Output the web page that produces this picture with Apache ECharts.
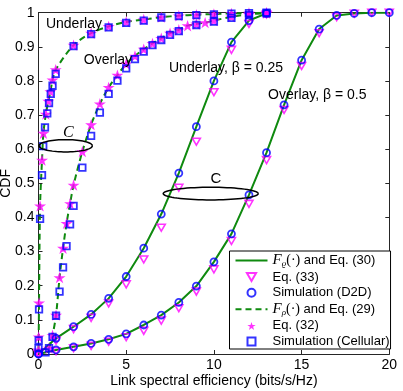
<!DOCTYPE html>
<html><head><meta charset="utf-8">
<script src="https://cdn.jsdelivr.net/npm/echarts@6/dist/echarts.min.js"></script>
<style>html,body{margin:0;padding:0;background:#fff}#c{width:403px;height:391px}</style>
</head><body><div id="c"></div>
<script>
// ---------------- DATA ----------------
const xTicks = [0, 5, 10, 15, 20];
const yTicks = [0, 0.1, 0.2, 0.3, 0.4, 0.5, 0.6, 0.7, 0.8, 0.9, 1];

// D2D, underlay (beta = 0.25)
const d2dUnderX   = [0, 1, 2, 3, 4, 5, 6, 7, 8, 9, 10, 11, 12, 13];
const d2dUnderSim = [0, 0.046, 0.08, 0.116, 0.163, 0.227, 0.31, 0.41, 0.53, 0.666, 0.80, 0.914, 0.977, 0.998];
const d2dUnderEq33 = [0, 0.039, 0.073, 0.106, 0.148, 0.204, 0.277, 0.37, 0.487, 0.622, 0.767, 0.891, 0.967, 0.995];

// D2D, overlay (beta = 0.5)
const d2dOverX   = [0, 1, 2, 3, 4, 5, 6, 7, 8, 9, 10, 11, 12, 13, 14, 15, 16, 17, 18, 19, 20];
const d2dOverSim = [0, 0.012, 0.021, 0.031, 0.043, 0.059, 0.085, 0.114, 0.151, 0.199, 0.27, 0.352, 0.466, 0.59, 0.73, 0.861, 0.952, 0.992, 0.998, 1, 1];
const d2dOverEq33 = [0, 0.008, 0.017, 0.024, 0.036, 0.049, 0.068, 0.098, 0.134, 0.183, 0.248, 0.331, 0.44, 0.568, 0.715, 0.844, 0.94, 0.987, 0.997, 1, 1];

// Cellular, underlay
const cellUnderEq32X = [0, 0.01, 0.03, 0.09, 0.2, 0.28, 0.42, 0.56, 0.68, 0.8, 0.98, 2, 3, 4, 5, 6, 7, 8, 9, 10, 11, 12, 13];
const cellUnderEq32  = [0.012, 0.05, 0.15, 0.434, 0.568, 0.647, 0.703, 0.741, 0.769, 0.803, 0.833, 0.905, 0.94, 0.96, 0.973, 0.98, 0.987, 0.991, 0.994, 0.996, 0.998, 0.999, 1];
const cellUnderSimX = [0, 0.01, 0.03, 0.09, 0.2, 0.27, 0.37, 0.5, 0.6, 0.7, 0.8, 0.98, 2, 3, 4, 5, 6, 7, 8, 9, 10, 11, 12, 13];
const cellUnderSim  = [0.017, 0.04, 0.131, 0.396, 0.524, 0.609, 0.664, 0.705, 0.735, 0.762, 0.786, 0.821, 0.902, 0.937, 0.957, 0.97, 0.977, 0.986, 0.99, 0.993, 0.995, 0.997, 0.999, 1];

// Cellular, overlay
const cellOverEq32X = [0.6, 0.8, 1, 1.2, 1.4, 1.6, 1.8, 2, 2.5, 3, 3.5, 4, 4.5, 5, 5.5, 6, 6.5, 7, 7.5, 8, 8.5, 9, 9.5, 10, 11, 12, 13];
const cellOverEq32  = [0.017, 0.055, 0.114, 0.224, 0.31, 0.383, 0.441, 0.495, 0.593, 0.672, 0.733, 0.781, 0.817, 0.85, 0.873, 0.893, 0.91, 0.925, 0.94, 0.95, 0.962, 0.967, 0.971, 0.977, 0.988, 0.995, 0.999];
const cellOverSimX = [0.4, 0.6, 0.8, 1, 1.2, 1.4, 1.6, 1.8, 2, 2.5, 3, 3.5, 4, 4.5, 5, 5.5, 6, 6.5, 7, 7.5, 8, 9, 10, 11, 12, 13];
const cellOverSim  = [0.005, 0.017, 0.05, 0.112, 0.183, 0.254, 0.316, 0.38, 0.434, 0.546, 0.639, 0.707, 0.762, 0.801, 0.837, 0.864, 0.886, 0.905, 0.92, 0.935, 0.946, 0.964, 0.974, 0.985, 0.993, 0.998];

const legendNames = ['Frho30', 'Eq. (33)', 'Simulation (D2D)', 'Frho29', 'Eq. (32)', 'Simulation (Cellular)'];

// ---------------- STYLE ----------------
const GREEN = '#0f8a0f', BLUE = '#0000ff', MAG = '#ff00ff';
const SANS = 'Liberation Sans';
const STAR = 'path://M0,-10 L2.245,-3.09 L9.51,-3.09 L3.633,1.18 L5.88,8.09 L0,3.82 L-5.88,8.09 L-3.633,1.18 L-9.51,-3.09 L-2.245,-3.09 Z';
const TRI_DOWN = 'path://M0,0 L10,0 L5,8.7 Z';
const SQUARE = 'path://M0,0 L10,0 L10,10 L0,10 Z';
const zip = (xs, ys) => xs.map((x, i) => [x, ys[i]]);

function lineSeries(name, xs, ys, dashed) {
  return { type: 'line', name, data: zip(xs, ys), symbol: 'none', smooth: dashed ? 0.3 : false,
    lineStyle: { color: GREEN, width: 2, type: dashed ? [6, 4] : 'solid' }, itemStyle: { color: GREEN },
    z: 2, silent: true, animation: false };
}
function scatter(name, xs, ys, symbol, size, st, z) {
  return { type: 'scatter', name, data: zip(xs, ys), symbol, symbolSize: size, symbolKeepAspect: true,
    itemStyle: st, z, silent: true, animation: false };
}
const triStyle = { color: 'rgba(255,255,255,0)', borderColor: MAG, borderWidth: 1.6 };
const circStyle = { color: 'rgba(255,255,255,0)', borderColor: BLUE, borderWidth: 1.8 };
const starStyle = { color: MAG, borderColor: MAG, borderWidth: 0 };
const sqStyle = { color: 'rgba(255,255,255,0)', borderColor: BLUE, borderWidth: 1.8 };

const series = [
  lineSeries('Frho30', d2dUnderX, d2dUnderSim, false),
  lineSeries('Frho30', d2dOverX, d2dOverSim, false),
  lineSeries('Frho29', cellUnderEq32X, cellUnderEq32, true),
  lineSeries('Frho29', cellOverEq32X, cellOverEq32, true),
  scatter('Eq. (33)', d2dUnderX, d2dUnderEq33, TRI_DOWN, 8, triStyle, 3),
  scatter('Eq. (33)', d2dOverX, d2dOverEq33, TRI_DOWN, 8, triStyle, 3),
  scatter('Simulation (D2D)', d2dUnderX, d2dUnderSim, 'circle', 7, circStyle, 4),
  scatter('Simulation (D2D)', d2dOverX, d2dOverSim, 'circle', 7, circStyle, 4),
  scatter('Eq. (32)', cellUnderEq32X, cellUnderEq32, STAR, 12, starStyle, 3),
  scatter('Eq. (32)', cellOverEq32X, cellOverEq32, STAR, 12, starStyle, 3),
  scatter('Simulation (Cellular)', cellUnderSimX, cellUnderSim, SQUARE, 6.5, sqStyle, 4),
  scatter('Simulation (Cellular)', cellOverSimX, cellOverSim, SQUARE, 6.5, sqStyle, 4)
];

const AX = '#262626';
function xAx(pos, labels) {
  return { type: 'value', min: xTicks[0], max: xTicks[xTicks.length - 1], interval: xTicks[1] - xTicks[0], position: pos,
    axisLine: { show: true, onZero: false, lineStyle: { color: AX, width: 1 } },
    axisTick: { show: true, inside: true, length: 4, lineStyle: { color: AX } },
    axisLabel: { show: labels, fontFamily: SANS, fontSize: 14, color: '#000', margin: 4 },
    splitLine: { show: false },
    name: labels ? 'Link spectral efficiency (bits/s/Hz)' : '', nameLocation: 'middle', nameGap: 20,
    nameMoveOverlap: false,
    nameTextStyle: { fontFamily: SANS, fontSize: 14, color: '#000' } };
}
function yAx(pos, labels) {
  return { type: 'value', min: yTicks[0], max: yTicks[yTicks.length - 1], interval: 0.1, position: pos,
    axisLine: { show: true, onZero: false, lineStyle: { color: AX, width: 1 } },
    axisTick: { show: true, inside: true, length: 4, lineStyle: { color: AX } },
    axisLabel: { show: labels, fontFamily: SANS, fontSize: 14, color: '#000', margin: 4 },
    splitLine: { show: false },
    name: labels ? 'CDF' : '', nameLocation: 'middle', nameGap: 25, nameMoveOverlap: false,
    nameTextStyle: { fontFamily: SANS, fontSize: 14, color: '#000' } };
}

const legendData = legendNames.map(n => (n.indexOf('Frho') === 0)
  ? { name: n, itemStyle: { opacity: 0, color: 'rgba(0,0,0,0)', borderWidth: 0 } }
  : { name: n });

const chart = echarts.init(document.getElementById('c'), null, { renderer: 'canvas' });
chart.setOption({
  animation: false,
  backgroundColor: '#fff',
  grid: { left: 38.5, right: 13.7, top: 12.7, bottom: 37, containLabel: false, outerBoundsMode: 'none' },
  xAxis: [xAx('bottom', true), xAx('top', false)],
  yAxis: [yAx('left', true), yAx('right', false)],
  legend: {
    orient: 'vertical', left: 229.5, top: 251, padding: [2, 1, 1, 5], itemGap: 2.6,
    itemWidth: 32, itemHeight: 8, selectedMode: false,
    backgroundColor: '#fff', borderColor: '#000', borderWidth: 1, borderRadius: 0,
    data: legendData,
    formatter: function (n) {
      if (n === 'Frho30') return '{f|F}{s|ϱ}{p|(·)}{t| and Eq. (30)}';
      if (n === 'Frho29') return '{f|F}{s|ρ}{p|(·)}{t| and Eq. (29)}';
      return n;
    },
    textStyle: { fontFamily: SANS, fontSize: 13, color: '#000', lineHeight: 13,
      rich: {
        f: { fontFamily: 'Liberation Serif', fontStyle: 'italic', fontSize: 15, color: '#000', lineHeight: 13 },
        s: { fontFamily: 'Liberation Serif', fontStyle: 'italic', fontSize: 9, color: '#000', lineHeight: 13, padding: [6, 0, 0, 0] },
        p: { fontFamily: 'Liberation Serif', fontSize: 14, color: '#000', lineHeight: 13 },
        t: { fontFamily: SANS, fontSize: 13, color: '#000', lineHeight: 13 }
      } }
  },
  series
});

// ---------------- ANNOTATIONS ----------------
const labels = [
  { text: 'Underlay', at: [2.02, 0.967], align: 'center', font: '14px "Liberation Sans"' },
  { text: 'Overlay', at: [3.96, 0.861], align: 'center', font: '14px "Liberation Sans"' },
  { text: 'Underlay, β = 0.25', at: [7.44, 0.839], align: 'left', font: '14px "Liberation Sans"' },
  { text: 'Overlay, β = 0.5', at: [13.09, 0.759], align: 'left', font: '14px "Liberation Sans"' },
  { text: 'C', at: [1.70, 0.647], align: 'center', font: 'italic 16px "Liberation Serif"' },
  { text: 'C', at: [10.11, 0.513], align: 'center', font: '15px "Liberation Sans"' }
];
const ellipses = [
  { c: [1.55, 0.61], r: [1.52, 0.018] },
  { c: [9.82, 0.47], r: [2.71, 0.0185] }
];
const g = [];
labels.forEach(l => {
  const p = chart.convertToPixel({ gridIndex: 0 }, l.at);
  g.push({ type: 'text', x: p[0], y: p[1], z: 20, style: { text: l.text, font: l.font, fill: '#000', align: l.align, verticalAlign: 'middle' } });
});
ellipses.forEach(e => {
  const c = chart.convertToPixel({ gridIndex: 0 }, e.c);
  const q = chart.convertToPixel({ gridIndex: 0 }, [e.c[0] + e.r[0], e.c[1] + e.r[1]]);
  const rx = q[0] - c[0], ry = c[1] - q[1];
  const pts = [];
  for (let i = 0; i <= 72; i++) { const a = i / 72 * Math.PI * 2; pts.push([c[0] + rx * Math.cos(a), c[1] + ry * Math.sin(a)]); }
  g.push({ type: 'polyline', z: 20, shape: { points: pts }, style: { stroke: '#000', lineWidth: 1.5, fill: null } });
});
chart.setOption({ graphic: g });
</script>
</body></html>
